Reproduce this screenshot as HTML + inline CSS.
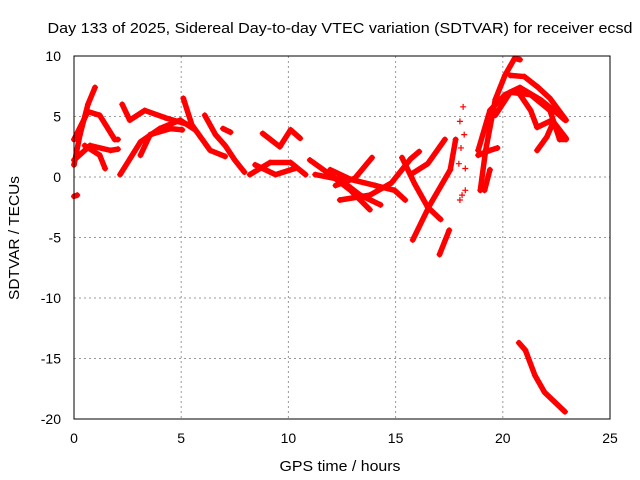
<!DOCTYPE html>
<html><head><meta charset="utf-8"><style>
body{margin:0;background:#fff;}
svg{display:block;font-family:"Liberation Sans",sans-serif;}
</style></head><body>
<svg id="chart" width="640" height="480" viewBox="0 0 640 480">
<text x="340" y="33" font-size="15" text-anchor="middle" textLength="585" lengthAdjust="spacingAndGlyphs" fill="#000">Day 133 of 2025, Sidereal Day-to-day VTEC variation (SDTVAR) for receiver ecsd</text>
<text x="340" y="471" font-size="15" text-anchor="middle" textLength="121" lengthAdjust="spacingAndGlyphs">GPS time / hours</text>
<text transform="translate(19,238) rotate(-90)" font-size="15" text-anchor="middle" textLength="124" lengthAdjust="spacingAndGlyphs">SDTVAR / TECUs</text>
<g id="grid"></g><g id="marks"></g><g id="axes"></g>
</svg>
<script>
const xTicks=[0,5,10,15,20,25];
const yTicks=[10,5,0,-5,-10,-15,-20];
const s1=[[0,1.0],[0.28,3.5],[0.65,6],[0.98,7.4]];
const s2=[[0,3.1],[0.65,5.4],[1.2,5.1],[1.9,3.1],[2.05,3.1]];
const s3=[[0,1.4],[0.75,2.6],[1.7,2.2],[2.05,2.3]];
const s4=[[0.5,2.6],[1.2,1.8],[1.45,0.7]];
const s5=[[0,-1.6],[0.15,-1.5]];
const s6=[[2.15,0.2],[3.1,2.9],[4.0,4.0],[4.95,4.7],[5.65,3.9]];
const s7=[[2.25,6],[2.6,4.7],[3.3,5.5],[4.25,4.9],[5.4,4.3]];
const s8=[[3.1,1.8],[3.55,3.5],[4.5,4],[5.05,3.9]];
const s9=[[5.1,6.5],[5.5,4.3],[6.35,2.2],[7.05,1.7]];
const s10=[[6.1,5.1],[6.6,3.5],[7.05,2.6],[7.5,1.4],[7.95,0.4]];
const s11=[[6.95,4.0],[7.3,3.7]];
const s12=[[8.8,3.6],[9.6,2.5],[10.1,3.9],[10.55,3.2]];
const s13=[[8.2,0.2],[9.15,1.2],[10.1,1.2],[10.8,0.2]];
const s14=[[8.45,1],[9.4,0.2],[10.3,0.7]];
const s15=[[11,1.4],[11.95,0.2],[12.9,-1.1],[13.8,-2.7]];
const s16=[[11.25,0.2],[12.4,-0.2],[13.35,-1.5],[14.3,-2.3]];
const s17=[[11.95,0.6],[12.9,-0.2],[14.05,-0.7],[14.95,-1.1],[15.45,-1.9]];
const s18=[[12.4,-1.9],[13.8,-1.5],[14.8,-0.5],[15.7,1.5],[16.1,2.1]];
const s19=[[12.2,-0.7],[13.1,-0.1],[13.9,1.6]];
const s20=[[15.8,-5.2],[16.6,-2.3],[17.55,0.6],[17.8,3.1]];
const s21=[[15.7,0.2],[16.5,1.1],[17.3,3.1]];
const s22=[[15.3,1.6],[15.9,-0.6],[16.5,-2.5],[17.1,-3.5]];
const s23=[[17.05,-6.4],[17.5,-4.4]];
const s24=[[18.95,-1.1],[19.2,2.2],[19.65,6.4],[20.1,8.4],[20.55,9.8],[20.8,9.7]];
const s25=[[18.85,2.2],[19.4,5.5],[20.1,6.8],[20.8,7.4],[21.75,6.4],[22.65,5.1],[22.9,4.7]];
const s26=[[19.65,5.1],[20.35,7],[21.3,6.8],[22.2,5.5],[22.65,3.1],[22.95,3.1]];
const s27=[[20.35,8.4],[21,8.3],[21.65,7.4],[22.2,6.5],[22.95,4.7]];
const s28=[[20.65,7.2],[21.3,5.5],[21.6,4.1],[22.3,4.7],[22.95,3.2]];
const s29=[[21.6,2.2],[22.05,3.3],[22.35,4.5]];
const s30=[[18.85,1.8],[19.4,2.2],[19.75,2.4]];
const s31=[[19.15,-1.1],[19.4,0.6]];
const s32=[[20.75,-13.7],[21.05,-14.3],[21.5,-16.4],[21.95,-17.8],[22.9,-19.4]];
const series=[s1,s2,s3,s4,s5,s6,s7,s8,s9,s10,s11,s12,s13,s14,s15,s16,s17,s18,s19,s20,s21,s22,s23,s24,s25,s26,s27,s28,s29,s30,s31,s32];
const scatterPts=[[18.0,4.6],[18.15,5.8],[17.95,1.1],[18.25,0.7],[18.1,-1.5],[18.0,-1.9],[18.25,-1.1],[18.05,2.4],[18.2,3.5]];

const NS='http://www.w3.org/2000/svg';
const X0=74,X1=610,Y0=419,Y1=56;
const xs=v=>X0+(v-0)/25*(X1-X0);
const ys=v=>Y0-(v+20)/30*(Y0-Y1);
const grid=document.getElementById('grid'),marks=document.getElementById('marks'),axes=document.getElementById('axes');
function mk(t,p,a){const e=document.createElementNS(NS,t);for(const k in a)e.setAttribute(k,a[k]);p.appendChild(e);return e;}
xTicks.forEach(t=>{
  const x=xs(t);
  if(t>0&&t<25){const g=mk('line',grid,{x1:x,x2:x,y1:Y1,y2:Y0,stroke:'#999','stroke-dasharray':'2,3'});
  
  }
  const l=mk('text',axes,{x:x,y:443,'font-size':14,'text-anchor':'middle'});l.textContent=t;
  
  
});
yTicks.forEach(t=>{
  const y=ys(t);
  if(t>-20&&t<10){const g=mk('line',grid,{x1:X0,x2:X1,y1:y,y2:y,stroke:'#999','stroke-dasharray':'2,3'});
  
  }
  const l=mk('text',axes,{x:61,y:y+5,'font-size':14,'text-anchor':'end'});l.textContent=t;
  
  
});
const fr=mk('rect',axes,{x:X0,y:Y1,width:X1-X0,height:Y0-Y1,fill:'none',stroke:'#000','stroke-width':1});


function plus(p,x,y){const e=mk('path',p,{d:`M${x-3},${y}h6M${x},${y-3}v6`,stroke:'#f00','stroke-width':1.2,fill:'none'});return e;}
series.forEach(s=>{
  const pl=mk('polyline',marks,{points:s.map(p=>xs(p[0])+','+ys(p[1])).join(' '),fill:'none',stroke:'#f00','stroke-width':5.5,'stroke-linejoin':'round','stroke-linecap':'round'});
  
  
  s.forEach(p=>{const m=plus(marks,xs(p[0]),ys(p[1]));
  
  });
});
scatterPts.forEach(p=>{const m=plus(marks,xs(p[0]),ys(p[1]));
  
  });
</script>
</body></html>
